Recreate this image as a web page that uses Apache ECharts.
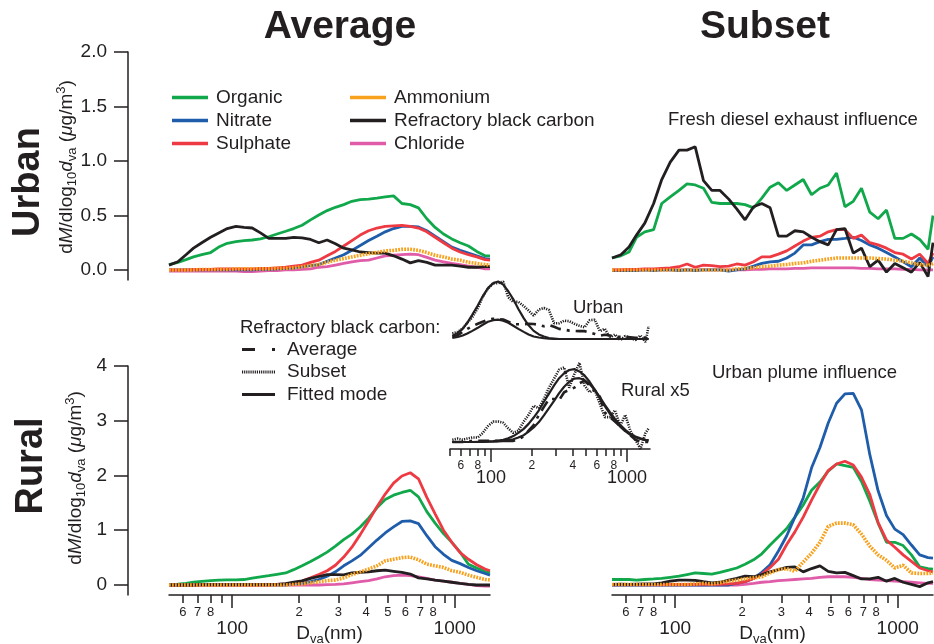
<!DOCTYPE html>
<html>
<head>
<meta charset="utf-8">
<script src="https://cdn.jsdelivr.net/npm/echarts@6/dist/echarts.min.js"></script>
<style>
  html, body { margin: 0; padding: 0; background: #ffffff; }
  #chart { width: 934px; height: 644px; }
</style>
</head>
<body>
<div id="chart"></div>
<script>
// Aerosol mass size distributions (dM/dlog10 dva) for urban and rural sites,
// campaign average vs. selected subsets, plus an inset of the rBC modes.

const FONT = '"Liberation Sans", Arial, Helvetica, sans-serif';
const INK = '#231f20';

// Vacuum aerodynamic diameter bins (nm)
const diameters = [52, 57, 62, 67, 73, 80, 87, 95, 104, 113, 123, 134, 146, 159, 174, 189, 206, 225, 245, 267,
  291, 317, 345, 376, 410, 447, 487, 531, 579, 631, 687, 749, 816, 890, 970, 1057, 1152, 1255, 1368, 1440];

const species = ['Organic', 'Nitrate', 'Sulphate', 'Ammonium', 'Refractory black carbon', 'Chloride'];

// ---- Urban, campaign average (µg/m3)
const urbanAvgOrganic = [0.05, 0.07, 0.095, 0.12, 0.14, 0.16, 0.21, 0.245, 0.26, 0.27, 0.275, 0.285, 0.305, 0.33, 0.355, 0.38, 0.41, 0.46, 0.505, 0.545,
  0.575, 0.60, 0.63, 0.645, 0.65, 0.66, 0.67, 0.68, 0.61, 0.60, 0.57, 0.47, 0.39, 0.33, 0.285, 0.25, 0.22, 0.17, 0.13, 0.13];
const urbanAvgNitrate = [0, 0, 0, 0, 0, 0, 0, 0, 0, 0, 0, 0.005, 0.005, 0.01, 0.015, 0.02, 0.03, 0.04, 0.05, 0.08,
  0.11, 0.14, 0.18, 0.225, 0.27, 0.31, 0.35, 0.38, 0.40, 0.40, 0.395, 0.36, 0.31, 0.26, 0.21, 0.18, 0.155, 0.13, 0.105, 0.10];
const urbanAvgSulphate = [0, 0, 0, 0.005, 0.005, 0.005, 0.01, 0.01, 0.01, 0.01, 0.01, 0.015, 0.015, 0.02, 0.025, 0.035, 0.045, 0.07, 0.09, 0.13,
  0.17, 0.22, 0.27, 0.32, 0.36, 0.385, 0.40, 0.405, 0.41, 0.40, 0.385, 0.35, 0.30, 0.25, 0.20, 0.165, 0.14, 0.12, 0.095, 0.09];
const urbanAvgAmmonium = [0, 0, 0, 0, 0.005, 0.005, 0.005, 0.005, 0.01, 0.01, 0.01, 0.01, 0.01, 0.015, 0.015, 0.02, 0.03, 0.04, 0.05, 0.07,
  0.09, 0.105, 0.12, 0.135, 0.15, 0.16, 0.175, 0.18, 0.19, 0.19, 0.18, 0.16, 0.135, 0.12, 0.10, 0.09, 0.07, 0.06, 0.05, 0.045];
const urbanAvgBlack = [0.045, 0.075, 0.14, 0.20, 0.25, 0.30, 0.34, 0.38, 0.40, 0.39, 0.385, 0.34, 0.29, 0.29, 0.29, 0.30, 0.295, 0.28, 0.25, 0.275,
  0.24, 0.20, 0.185, 0.165, 0.16, 0.155, 0.155, 0.13, 0.10, 0.065, 0.085, 0.07, 0.045, 0.045, 0.045, 0.035, 0.025, 0.025, 0.03, 0.03];
const urbanAvgChloride = [-0.01, -0.01, -0.01, -0.01, -0.01, -0.01, -0.01, -0.01, -0.01, -0.015, -0.015, -0.01, -0.005, -0.005, 0, 0, 0.005, 0.01, 0.025, 0.03,
  0.045, 0.06, 0.075, 0.085, 0.09, 0.11, 0.13, 0.135, 0.14, 0.145, 0.14, 0.115, 0.09, 0.075, 0.06, 0.05, 0.035, 0.025, 0.01, 0.01];

// ---- Urban, fresh diesel exhaust subset
const urbanSubOrganic = [0.11, 0.13, 0.165, 0.30, 0.35, 0.37, 0.61, 0.67, 0.73, 0.79, 0.78, 0.75, 0.62, 0.61, 0.61, 0.61, 0.60, 0.57, 0.66, 0.76,
  0.80, 0.73, 0.78, 0.83, 0.69, 0.75, 0.78, 0.89, 0.58, 0.63, 0.75, 0.53, 0.47, 0.55, 0.29, 0.29, 0.33, 0.28, 0.19, 0.50];
const urbanSubNitrate = [-0.005, -0.005, -0.005, -0.005, 0, -0.005, 0, 0, -0.005, 0, -0.005, 0, 0, 0, -0.01, 0, 0.01, 0.035, 0.06, 0.075,
  0.08, 0.11, 0.155, 0.23, 0.23, 0.26, 0.28, 0.28, 0.29, 0.30, 0.27, 0.23, 0.20, 0.16, 0.12, 0.075, 0.03, 0.11, 0.03, 0.12];
const urbanSubSulphate = [0, 0, 0.005, 0.005, 0.01, 0.01, 0.015, 0.02, 0.03, 0.055, 0.025, 0.045, 0.04, 0.03, 0.035, 0.055, 0.045, 0.075, 0.12, 0.12,
  0.145, 0.175, 0.22, 0.265, 0.30, 0.31, 0.35, 0.37, 0.37, 0.29, 0.32, 0.25, 0.23, 0.20, 0.16, 0.145, 0.10, 0.145, 0.06, 0.155];
const urbanSubAmmonium = [0, 0, 0, 0, 0, 0, 0, 0, 0, 0, 0, 0, 0, 0, 0, 0.01, 0.015, 0.02, 0.03, 0.035,
  0.045, 0.05, 0.06, 0.065, 0.08, 0.09, 0.10, 0.11, 0.11, 0.11, 0.11, 0.11, 0.105, 0.10, 0.09, 0.08, 0.065, 0.05, 0.04, 0.06];
const urbanSubBlack = [0.11, 0.14, 0.21, 0.32, 0.43, 0.61, 0.83, 0.99, 1.10, 1.10, 1.13, 0.82, 0.73, 0.73, 0.65, 0.56, 0.46, 0.58, 0.61, 0.57,
  0.31, 0.31, 0.36, 0.35, 0.30, 0.26, 0.23, 0.37, 0.38, 0.155, 0.20, 0.03, 0.09, -0.02, 0.06, 0.02, -0.02, 0.07, -0.06, 0.25];
const urbanSubChloride = [0, 0, 0, 0, 0, 0, 0, 0, 0, 0, 0, 0, 0, 0, 0, 0, 0, 0.005, 0.005, 0.01,
  0.01, 0.01, 0.015, 0.015, 0.02, 0.02, 0.02, 0.02, 0.02, 0.02, 0.015, 0.015, 0.01, 0.01, 0.01, 0.005, 0.005, 0, 0, 0];

// ---- Rural, campaign average
const ruralAvgOrganic = [0, 0.015, 0.03, 0.05, 0.065, 0.08, 0.09, 0.095, 0.095, 0.10, 0.125, 0.15, 0.17, 0.195, 0.22, 0.28, 0.35, 0.43, 0.51, 0.60,
  0.71, 0.83, 0.93, 1.06, 1.22, 1.41, 1.56, 1.64, 1.69, 1.73, 1.61, 1.34, 1.13, 0.94, 0.78, 0.60, 0.38, 0.31, 0.25, 0.22];
const ruralAvgNitrate = [0, 0, 0, 0, 0, 0, 0, 0, 0, 0, 0, 0, 0, 0, 0, 0.02, 0.03, 0.06, 0.10, 0.16,
  0.24, 0.35, 0.44, 0.54, 0.68, 0.82, 0.95, 1.06, 1.16, 1.17, 1.12, 0.90, 0.70, 0.56, 0.45, 0.39, 0.32, 0.26, 0.21, 0.18];
const ruralAvgSulphate = [0, 0, 0, 0, 0, 0, 0, 0, 0, 0, 0, 0, 0, 0.01, 0.02, 0.04, 0.07, 0.13, 0.19, 0.26,
  0.36, 0.51, 0.69, 0.92, 1.17, 1.43, 1.66, 1.86, 1.99, 2.05, 1.94, 1.60, 1.30, 1.00, 0.78, 0.59, 0.47, 0.37, 0.29, 0.26];
const ruralAvgAmmonium = [0, 0, 0, 0, 0, 0, 0, 0, 0, 0, 0, 0, 0, 0, 0, 0.01, 0.02, 0.04, 0.06, 0.08,
  0.09, 0.13, 0.19, 0.24, 0.29, 0.35, 0.44, 0.47, 0.50, 0.51, 0.46, 0.38, 0.35, 0.32, 0.26, 0.23, 0.18, 0.14, 0.10, 0.09];
const ruralAvgBlack = [0, 0, 0, 0, 0.005, 0.005, 0.005, 0.005, 0.005, 0.005, 0.005, 0.005, 0.005, 0.01, 0.025, 0.05, 0.075, 0.12, 0.155, 0.19,
  0.19, 0.185, 0.22, 0.23, 0.24, 0.26, 0.27, 0.25, 0.23, 0.20, 0.13, 0.11, 0.09, 0.07, 0.05, 0.03, 0.01, 0, 0, 0];
const ruralAvgChloride = [0, 0, 0, 0, 0, 0, 0, 0, 0, 0, 0, 0, 0, 0, 0, 0, 0, 0, 0, 0.005,
  0.01, 0.02, 0.04, 0.06, 0.08, 0.11, 0.15, 0.17, 0.18, 0.17, 0.15, 0.12, 0.09, 0.07, 0.05, 0.03, 0.01, -0.01, -0.02, -0.02];

// ---- Rural, urban plume subset
const ruralSubOrganic = [0.10, 0.10, 0.10, 0.09, 0.10, 0.11, 0.12, 0.14, 0.16, 0.19, 0.22, 0.21, 0.20, 0.23, 0.27, 0.31, 0.38, 0.46, 0.57, 0.73,
  0.88, 1.03, 1.24, 1.46, 1.73, 1.88, 2.08, 2.21, 2.18, 2.15, 1.89, 1.53, 1.13, 0.78, 0.78, 0.72, 0.55, 0.33, 0.30, 0.29];
const ruralSubNitrate = [0, 0, 0, 0, 0, 0, 0, 0, 0, 0, 0, 0, 0, 0, 0, 0.03, 0.06, 0.12, 0.23, 0.37,
  0.62, 0.90, 1.24, 1.59, 2.14, 2.51, 2.96, 3.32, 3.49, 3.50, 3.20, 2.38, 1.72, 1.27, 1.02, 0.92, 0.73, 0.55, 0.50, 0.49];
const ruralSubSulphate = [0.01, 0.01, 0.01, 0.01, 0.01, 0.01, 0.01, 0.01, 0.01, 0.01, 0.01, 0.01, 0.01, 0.01, 0.02, 0.03, 0.06, 0.12, 0.20, 0.32,
  0.47, 0.74, 0.97, 1.24, 1.55, 1.84, 2.09, 2.21, 2.26, 2.19, 1.97, 1.65, 1.14, 0.82, 0.69, 0.55, 0.43, 0.31, 0.26, 0.24];
const ruralSubAmmonium = [0.01, 0.01, 0.01, 0.01, 0.01, 0.01, 0.01, 0.01, 0.01, 0.01, 0.02, 0.03, 0.02, 0.04, 0.07, 0.09, 0.11, 0.13, 0.15, 0.22,
  0.28, 0.30, 0.25, 0.42, 0.58, 0.78, 1.07, 1.13, 1.13, 1.10, 0.93, 0.71, 0.55, 0.45, 0.31, 0.36, 0.22, 0.21, 0.21, 0.22];
const ruralSubBlack = [0.01, 0.015, 0.01, 0.015, 0.02, 0.02, 0.04, 0.07, 0.09, 0.09, 0.085, 0.06, 0.04, 0.05, 0.09, 0.12, 0.16, 0.15, 0.19, 0.24,
  0.28, 0.32, 0.33, 0.24, 0.30, 0.35, 0.25, 0.22, 0.23, 0.17, 0.11, 0.11, 0.14, 0.07, 0.12, 0.05, 0.01, -0.03, 0.04, 0.06];
const ruralSubChloride = [0, 0, 0, 0, 0, 0, 0, 0, 0, 0, 0, 0, 0, 0, 0, 0, 0.01, 0.03, 0.05, 0.06,
  0.08, 0.09, 0.10, 0.11, 0.12, 0.14, 0.15, 0.15, 0.15, 0.14, 0.12, 0.10, 0.09, 0.08, 0.07, 0.06, 0.05, 0.04, 0.03, 0.03];

// ---- Fitted lognormal rBC modes (inset)
const urbanFitSubset = [0.06, 0.12, 0.20, 0.32, 0.48, 0.66, 0.84, 1.00, 1.10, 1.13, 1.07, 0.94, 0.78, 0.59, 0.41, 0.27, 0.16, 0.09, 0.05, 0.02,
  0.01, 0, 0, 0, 0, 0, 0, 0, 0, 0, 0, 0, 0, 0, 0, 0, 0, 0, 0, 0];
const urbanFitAverage = [0.02, 0.04, 0.07, 0.11, 0.16, 0.22, 0.28, 0.34, 0.37, 0.38, 0.36, 0.32, 0.26, 0.20, 0.14, 0.09, 0.05, 0.03, 0.015, 0.005,
  0, 0, 0, 0, 0, 0, 0, 0, 0, 0, 0, 0, 0, 0, 0, 0, 0, 0, 0, 0];
const ruralFitSubset = [0, 0, 0, 0, 0, 0.005, 0.008, 0.012, 0.018, 0.03, 0.05, 0.08, 0.13, 0.20, 0.29, 0.40, 0.54, 0.70, 0.89, 1.07,
  1.25, 1.41, 1.52, 1.59, 1.61, 1.56, 1.47, 1.33, 1.16, 0.97, 0.79, 0.62, 0.46, 0.34, 0.24, 0.16, 0.105, 0.066, 0.04, 0.03];
const ruralFitAverage = [0, 0, 0, 0, 0, 0, 0, 0.005, 0.008, 0.012, 0.02, 0.04, 0.06, 0.10, 0.15, 0.23, 0.32, 0.44, 0.59, 0.75,
  0.91, 1.08, 1.22, 1.33, 1.40, 1.41, 1.37, 1.28, 1.15, 0.99, 0.82, 0.66, 0.51, 0.38, 0.27, 0.18, 0.12, 0.08, 0.05, 0.04];
const ruralInsetFactor = 5;

// ---- Axis ticks
const mainTicksMinor = [60, 70, 80, 90, 200, 300, 400, 500, 600, 700, 800, 900];
const mainLabelsMinor = [60, 70, 80, 200, 300, 400, 500, 600, 700, 800];
const insetTicksMinor = [50, 60, 70, 80, 90, 200, 300, 400, 500, 600, 700, 800, 900];
const insetLabelsMinor = [60, 80, 200, 400, 600, 800];
const decadeTicks = [100, 1000];
const urbanYTicks = [0, 0.5, 1.0, 1.5, 2.0];
const ruralYTicks = [0, 1, 2, 3, 4];

// ---- Styling
const colors = {
  'Organic': '#10a84b',
  'Nitrate': '#1f5dab',
  'Sulphate': '#ee3a43',
  'Ammonium': '#f7a11c',
  'Refractory black carbon': INK,
  'Chloride': '#e05ba8'
};
const drawOrder = ['Chloride', 'Organic', 'Nitrate', 'Sulphate', 'Refractory black carbon', 'Ammonium'];
const MAIN_X = [52, 1440];
const INSET_X = [50, 1475];

const grids = [], xAxes = [], yAxes = [], series = [];

function tickAxes(gi, range, minorTicks, minorLabels, minorLen, majorLen, minorSize, majorSize, minorMargin, majorMargin, name) {
  const lo = Math.log10(range[0]), hi = Math.log10(range[1]);
  xAxes.push({
    type: 'value', gridIndex: gi, position: 'bottom', min: lo, max: hi,
    axisLine: { show: true, onZero: false, lineStyle: { color: INK, width: 1.5 } },
    axisTick: { show: true, length: minorLen, customValues: minorTicks.map(Math.log10), lineStyle: { color: INK, width: 1.5 } },
    axisLabel: {
      show: true, customValues: minorLabels.map(Math.log10), margin: minorMargin,
      fontSize: minorSize, fontFamily: FONT, color: INK,
      formatter: v => String(Math.round(Math.pow(10, v - Math.floor(v + 1e-9))))
    },
    splitLine: { show: false }
  });
  const major = {
    type: 'value', gridIndex: gi, position: 'bottom', min: lo, max: hi,
    axisLine: { show: false, onZero: false },
    axisTick: { show: true, length: majorLen, customValues: decadeTicks.map(Math.log10), lineStyle: { color: INK, width: 1.5 } },
    axisLabel: {
      show: true, customValues: decadeTicks.map(Math.log10), margin: majorMargin,
      fontSize: majorSize, fontFamily: FONT, color: INK,
      formatter: v => String(Math.round(Math.pow(10, v)))
    },
    splitLine: { show: false }
  };
  if (name) {
    Object.assign(major, {
      name: '{d|D}{s|va}{d|(nm)}', nameLocation: 'middle', nameGap: 27, nameMoveOverlap: false,
      nameTextStyle: {
        rich: {
          d: { fontSize: 19, fontFamily: FONT, color: INK, lineHeight: 24 },
          s: { fontSize: 13, fontFamily: FONT, color: INK, lineHeight: 13, verticalAlign: 'bottom' }
        }
      }
    });
  }
  xAxes.push(major);
}

function addPanel(rect, xRange, yRange, yTicks, yFormat, withXTicks, inset) {
  const gi = grids.length;
  grids.push(Object.assign({ containLabel: false, outerBoundsMode: 'none' }, rect));
  const xi = xAxes.length;
  xAxes.push({ type: 'log', logBase: 10, gridIndex: gi, position: 'bottom', min: xRange[0], max: xRange[1], show: false, axisLine: { onZero: false } });
  if (withXTicks) {
    if (inset) tickAxes(gi, xRange, insetTicksMinor, insetLabelsMinor, 7, 13, 12, 18, 11, 20, false);
    else tickAxes(gi, xRange, mainTicksMinor, mainLabelsMinor, 8, 13, 13, 19, 11, 24, true);
  }
  const yi = yAxes.length;
  const y = { type: 'value', gridIndex: gi, min: yRange[0], max: yRange[1], position: 'left', splitLine: { show: false } };
  if (yTicks) {
    Object.assign(y, {
      offset: 41,
      axisLine: { show: true, onZero: false, lineStyle: { color: INK, width: 1.5 } },
      axisTick: { show: true, length: 14, customValues: yTicks, lineStyle: { color: INK, width: 1.5 } },
      axisLabel: { show: true, customValues: yTicks, margin: 21, fontSize: 19, fontFamily: FONT, color: INK, formatter: yFormat }
    });
  } else {
    y.show = false;
  }
  yAxes.push(y);
  return { xi, yi };
}

function pairs(values, scale) {
  const k = scale || 1;
  return diameters.map((d, i) => [d, values[i] * k]);
}

function speciesPanel(axes, table) {
  drawOrder.forEach(name => {
    const dotted = name === 'Ammonium';
    series.push({
      type: 'line', name, xAxisIndex: axes.xi, yAxisIndex: axes.yi,
      data: pairs(table[name]), showSymbol: false, symbol: 'none', smooth: false,
      color: colors[name],
      lineStyle: dotted
        ? { color: colors[name], width: 3.6, type: [1.8, 1.2] }
        : { color: colors[name], width: 2.8 },
      animation: false, silent: true
    });
  });
}

function insetLine(axes, name, values, scale, style) {
  series.push({
    type: 'line', name, xAxisIndex: axes.xi, yAxisIndex: axes.yi,
    data: pairs(values, scale), showSymbol: false, symbol: 'none',
    color: INK, lineStyle: Object.assign({ color: INK }, style), animation: false, silent: true
  });
}

// Panels
const pUrbanAvg = addPanel({ left: 169, top: 52, width: 321, height: 228 }, MAIN_X, [-0.092, 2], urbanYTicks, v => v.toFixed(1), false, false);
const pUrbanSub = addPanel({ left: 612, top: 52, width: 321, height: 228 }, MAIN_X, [-0.092, 2], null, null, false, false);
const pRuralAvg = addPanel({ left: 169, top: 366, width: 321, height: 229 }, MAIN_X, [-0.183, 4], ruralYTicks, v => String(v), true, false);
const pRuralSub = addPanel({ left: 612, top: 366, width: 321, height: 229 }, MAIN_X, [-0.183, 4], null, null, true, false);
const pInsetUrban = addPanel({ left: 450, top: 278, width: 200, height: 66 }, INSET_X, [-0.098, 1.2], null, null, false, true);
const pInsetRural = addPanel({ left: 450, top: 356, width: 200, height: 93 }, INSET_X, [-0.155, 1.9], null, null, true, true);

speciesPanel(pUrbanAvg, {
  'Organic': urbanAvgOrganic, 'Nitrate': urbanAvgNitrate, 'Sulphate': urbanAvgSulphate,
  'Ammonium': urbanAvgAmmonium, 'Refractory black carbon': urbanAvgBlack, 'Chloride': urbanAvgChloride
});
speciesPanel(pUrbanSub, {
  'Organic': urbanSubOrganic, 'Nitrate': urbanSubNitrate, 'Sulphate': urbanSubSulphate,
  'Ammonium': urbanSubAmmonium, 'Refractory black carbon': urbanSubBlack, 'Chloride': urbanSubChloride
});
speciesPanel(pRuralAvg, {
  'Organic': ruralAvgOrganic, 'Nitrate': ruralAvgNitrate, 'Sulphate': ruralAvgSulphate,
  'Ammonium': ruralAvgAmmonium, 'Refractory black carbon': ruralAvgBlack, 'Chloride': ruralAvgChloride
});
speciesPanel(pRuralSub, {
  'Organic': ruralSubOrganic, 'Nitrate': ruralSubNitrate, 'Sulphate': ruralSubSulphate,
  'Ammonium': ruralSubAmmonium, 'Refractory black carbon': ruralSubBlack, 'Chloride': ruralSubChloride
});

// Inset: rBC modes
const subsetStyle = { width: 2.6, type: [1.2, 1.2] };
const averageStyle = { width: 2.6, type: [11, 6, 3, 6] };
const fitStyle = { width: 2.2 };
insetLine(pInsetUrban, 'Subset', urbanSubBlack, 1, subsetStyle);
insetLine(pInsetUrban, 'Average', urbanAvgBlack, 1, averageStyle);
insetLine(pInsetUrban, 'Fitted mode', urbanFitSubset, 1, fitStyle);
insetLine(pInsetUrban, 'Fitted mode', urbanFitAverage, 1, fitStyle);
insetLine(pInsetRural, 'Subset', ruralSubBlack, ruralInsetFactor, subsetStyle);
insetLine(pInsetRural, 'Average', ruralAvgBlack, ruralInsetFactor, averageStyle);
insetLine(pInsetRural, 'Fitted mode', ruralFitSubset, 1, fitStyle);
insetLine(pInsetRural, 'Fitted mode', ruralFitAverage, 1, fitStyle);

// Legend icons for the inset line styles
const dashDotIcon = 'path://M0,0h13v3h-13zM30,0h3v3h-3z';
let dottedIcon = 'path://';
for (let x = 0; x < 33; x += 2.2) dottedIcon += 'M' + x.toFixed(1) + ',0h1.2v3h-1.2z';

const legendText = { fontSize: 19, fontFamily: FONT, color: INK, lineHeight: 18, padding: [0, 0, 0, 3] };
const legends = [
  { data: species.slice(0, 3), left: 172, top: 88 },
  { data: species.slice(3), left: 350, top: 88 }
].map(l => Object.assign({
  orient: 'vertical', icon: 'rect', itemWidth: 36, itemHeight: 3.5, itemGap: 4, padding: 0,
  selectedMode: false, textStyle: legendText
}, l));
legends.push({
  orient: 'vertical', left: 242, top: 340, itemWidth: 33, itemHeight: 3, itemGap: 3.5, padding: 0,
  selectedMode: false,
  textStyle: Object.assign({}, legendText, { padding: [0, 0, 0, 7] }),
  data: [
    { name: 'Average', icon: dashDotIcon },
    { name: 'Subset', icon: dottedIcon },
    { name: 'Fitted mode', icon: 'rect' }
  ]
});

// Text annotations
function label(text, x, y, size, opts) {
  const o = opts || {};
  return {
    type: 'text', x, y, rotation: o.rotation || 0, silent: true,
    style: {
      text, fill: INK,
      font: (o.bold ? 'bold ' : '') + size + 'px ' + FONT,
      align: o.align || 'left', verticalAlign: 'middle',
      textAlign: o.align || 'left', textVerticalAlign: 'middle',
      rich: o.rich
    }
  };
}
const yTitleRich = {
  t: { fontSize: 19, fontFamily: FONT, fill: INK, color: INK, lineHeight: 24 },
  i: { fontSize: 19, fontFamily: FONT, fontStyle: 'italic', fill: INK, color: INK, lineHeight: 24 },
  s: { fontSize: 13, fontFamily: FONT, fill: INK, color: INK, lineHeight: 13, verticalAlign: 'bottom' },
  p: { fontSize: 13, fontFamily: FONT, fill: INK, color: INK, lineHeight: 13, verticalAlign: 'top' }
};
const yTitle = '{t|d}{i|M}{t|/dlog}{s|10}{i|d}{s|va}{t| (}{i|μ}{t|g/m}{p|3}{t|)}';

const graphics = [
  label('Average', 340, 27, 39, { bold: true, align: 'center' }),
  label('Subset', 765, 27, 39, { bold: true, align: 'center' }),
  label('Urban', 29, 182, 38, { bold: true, align: 'center', rotation: Math.PI / 2 }),
  label('Rural', 32, 466, 38, { bold: true, align: 'center', rotation: Math.PI / 2 }),
  label(yTitle, 67, 167, 19, { align: 'center', rotation: Math.PI / 2, rich: yTitleRich }),
  label(yTitle, 76, 478, 19, { align: 'center', rotation: Math.PI / 2, rich: yTitleRich }),
  label('Fresh diesel exhaust influence', 668, 120, 18.5),
  label('Urban plume influence', 712, 373, 18.5),
  label('Urban', 573, 308, 18.5),
  label('Rural x5', 621, 391, 18.5),
  label('Refractory black carbon:', 240, 328, 18.5)
];

const chart = echarts.init(document.getElementById('chart'), null, { renderer: 'canvas' });
chart.setOption({
  animation: false,
  backgroundColor: '#ffffff',
  grid: grids,
  xAxis: xAxes,
  yAxis: yAxes,
  legend: legends,
  series,
  graphic: graphics
});
</script>
</body>
</html>
